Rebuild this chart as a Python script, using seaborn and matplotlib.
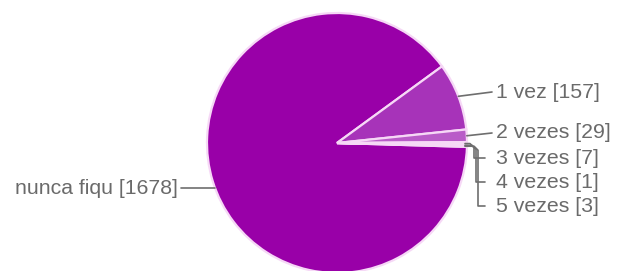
import numpy as np
import seaborn as sns
import matplotlib.pyplot as plt

# survey answers and counts
labels = ["nunca fiqu", "1 vez", "2 vezes", "3 vezes", "4 vezes", "5 vezes"]
counts = [1678, 157, 29, 7, 1, 3]
colors = ["#9900a8", "#a733b9", "#b95cc8", "#f3e2f3", "#f3e2f3", "#f3e2f3"]

sns.set_theme(style="white")
plt.rcParams['font.family'] = ['Liberation Sans', 'DejaVu Sans']

W, H = 618, 271
fig = plt.figure(figsize=(W / 100, H / 100), dpi=100)
ax = fig.add_axes([0, 0, 1, 1])

cx, cy, r = 337, H - 143, 130
wedges, _ = ax.pie(counts, colors=colors, startangle=-1.7, counterclock=False,
                   center=(cx, cy), radius=r, frame=True,
                   wedgeprops=dict(edgecolor='#f6d8f6', linewidth=1.6))
ax.set_xlim(0, W)
ax.set_ylim(0, H)
ax.set_aspect('equal')
ax.axis('off')

line_c = '#6e6e6e'
text_c = '#6a6a6a'
fs = 15.3

# label positions (y measured from top)
label_y = {"1 vez": 92, "2 vezes": 133, "3 vezes": 158, "4 vezes": 182, "5 vezes": 206}
step_x = {"3 vezes": 474, "4 vezes": 476, "5 vezes": 478}

for w, lab, n in zip(wedges, labels, counts):
    mid = np.deg2rad((w.theta1 + w.theta2) / 2)
    ex, ey = cx + r * np.cos(mid), cy + r * np.sin(mid)
    text = f"{lab} [{n}]"
    if lab == "nunca fiqu":
        ty = H - 188
        ex = cx - np.sqrt(r ** 2 - (cy - ty) ** 2)
        ax.plot([181, ex], [ty, ty], color=line_c, lw=1.2)
        ax.text(178, ty, text, ha='right', va='center', fontsize=fs, color=text_c)
        continue
    ty = H - label_y[lab]
    if lab in step_x:
        sx = step_x[lab]
        ax.plot([ex - 2, sx - 4, sx, sx, 485], [ey, ey, ey - 4, ty, ty], color=line_c, lw=1.2)
    else:
        ax.plot([ex, 492], [ey, ty], color=line_c, lw=1.2)
    ax.text(496, ty, text, ha='left', va='center', fontsize=fs, color=text_c)

fig.savefig('out.png', dpi=100)
